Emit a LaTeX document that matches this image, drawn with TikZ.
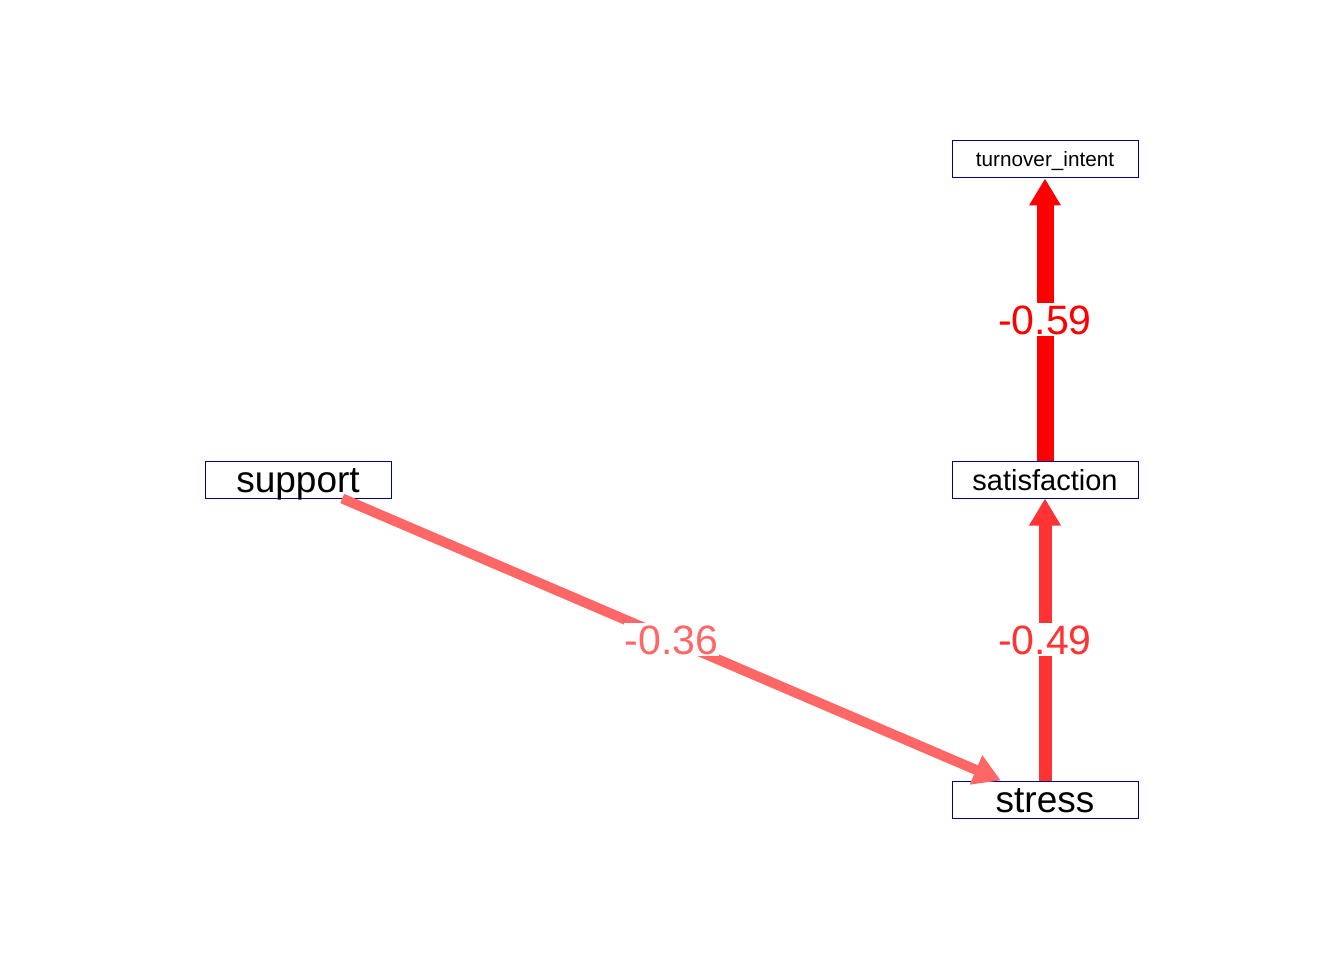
\documentclass[tikz,border=0pt]{standalone}
\usepackage{fontspec}
\setmainfont{Liberation Sans}
\usetikzlibrary{arrows.meta}
\definecolor{boxblue}{RGB}{0,0,139}
\definecolor{eA}{RGB}{255,0,0}
\definecolor{eB}{RGB}{255,51,51}
\definecolor{eC}{RGB}{255,102,102}
\tikzset{
  var/.style={draw=boxblue, line width=1pt, fill=white, rectangle, minimum width=186pt, minimum height=37pt, inner sep=0pt, text depth=0pt, text=black},
  path/.style={-{Triangle[length=27pt,width=30pt]}},
  elab/.style={fill=white, inner xsep=1pt, inner ysep=1.5pt, text height=29.5pt, text depth=0pt, font=\fontsize{41}{49}\selectfont}
}
\begin{document}
\begin{tikzpicture}[x=1pt,y=-1pt]
\useasboundingbox (0,0) rectangle (1344,960);
\node[var, text height=15pt, font=\fontsize{20.7}{24}\selectfont] (ti) at (1045,159.5) {turnover\_intent};
\node[var, text height=21pt, font=\fontsize{29}{34}\selectfont] (sat) at (1045,479.5) {satisfaction};
\node[var, text height=26.6pt, font=\fontsize{37}{44}\selectfont] (str) at (1045,799.5) {stress};
\node[var, text height=26.6pt, font=\fontsize{37}{44}\selectfont] (sup) at (298,479.5) {support};
\draw[path, draw=eC, fill=eC, line width=10pt] (sup) -- (str) node[elab, midway, text=eC] (l3) {-0.36};
\draw[path, draw=eB, fill=eB, line width=13pt] (str) -- (sat) node[elab, midway, text=eB] (l2) {-0.49};
\draw[path, draw=eA, fill=eA, line width=17pt] (sat) -- (ti) node[elab, midway, text=eA] (l1) {-0.59};
\end{tikzpicture}
\end{document}
